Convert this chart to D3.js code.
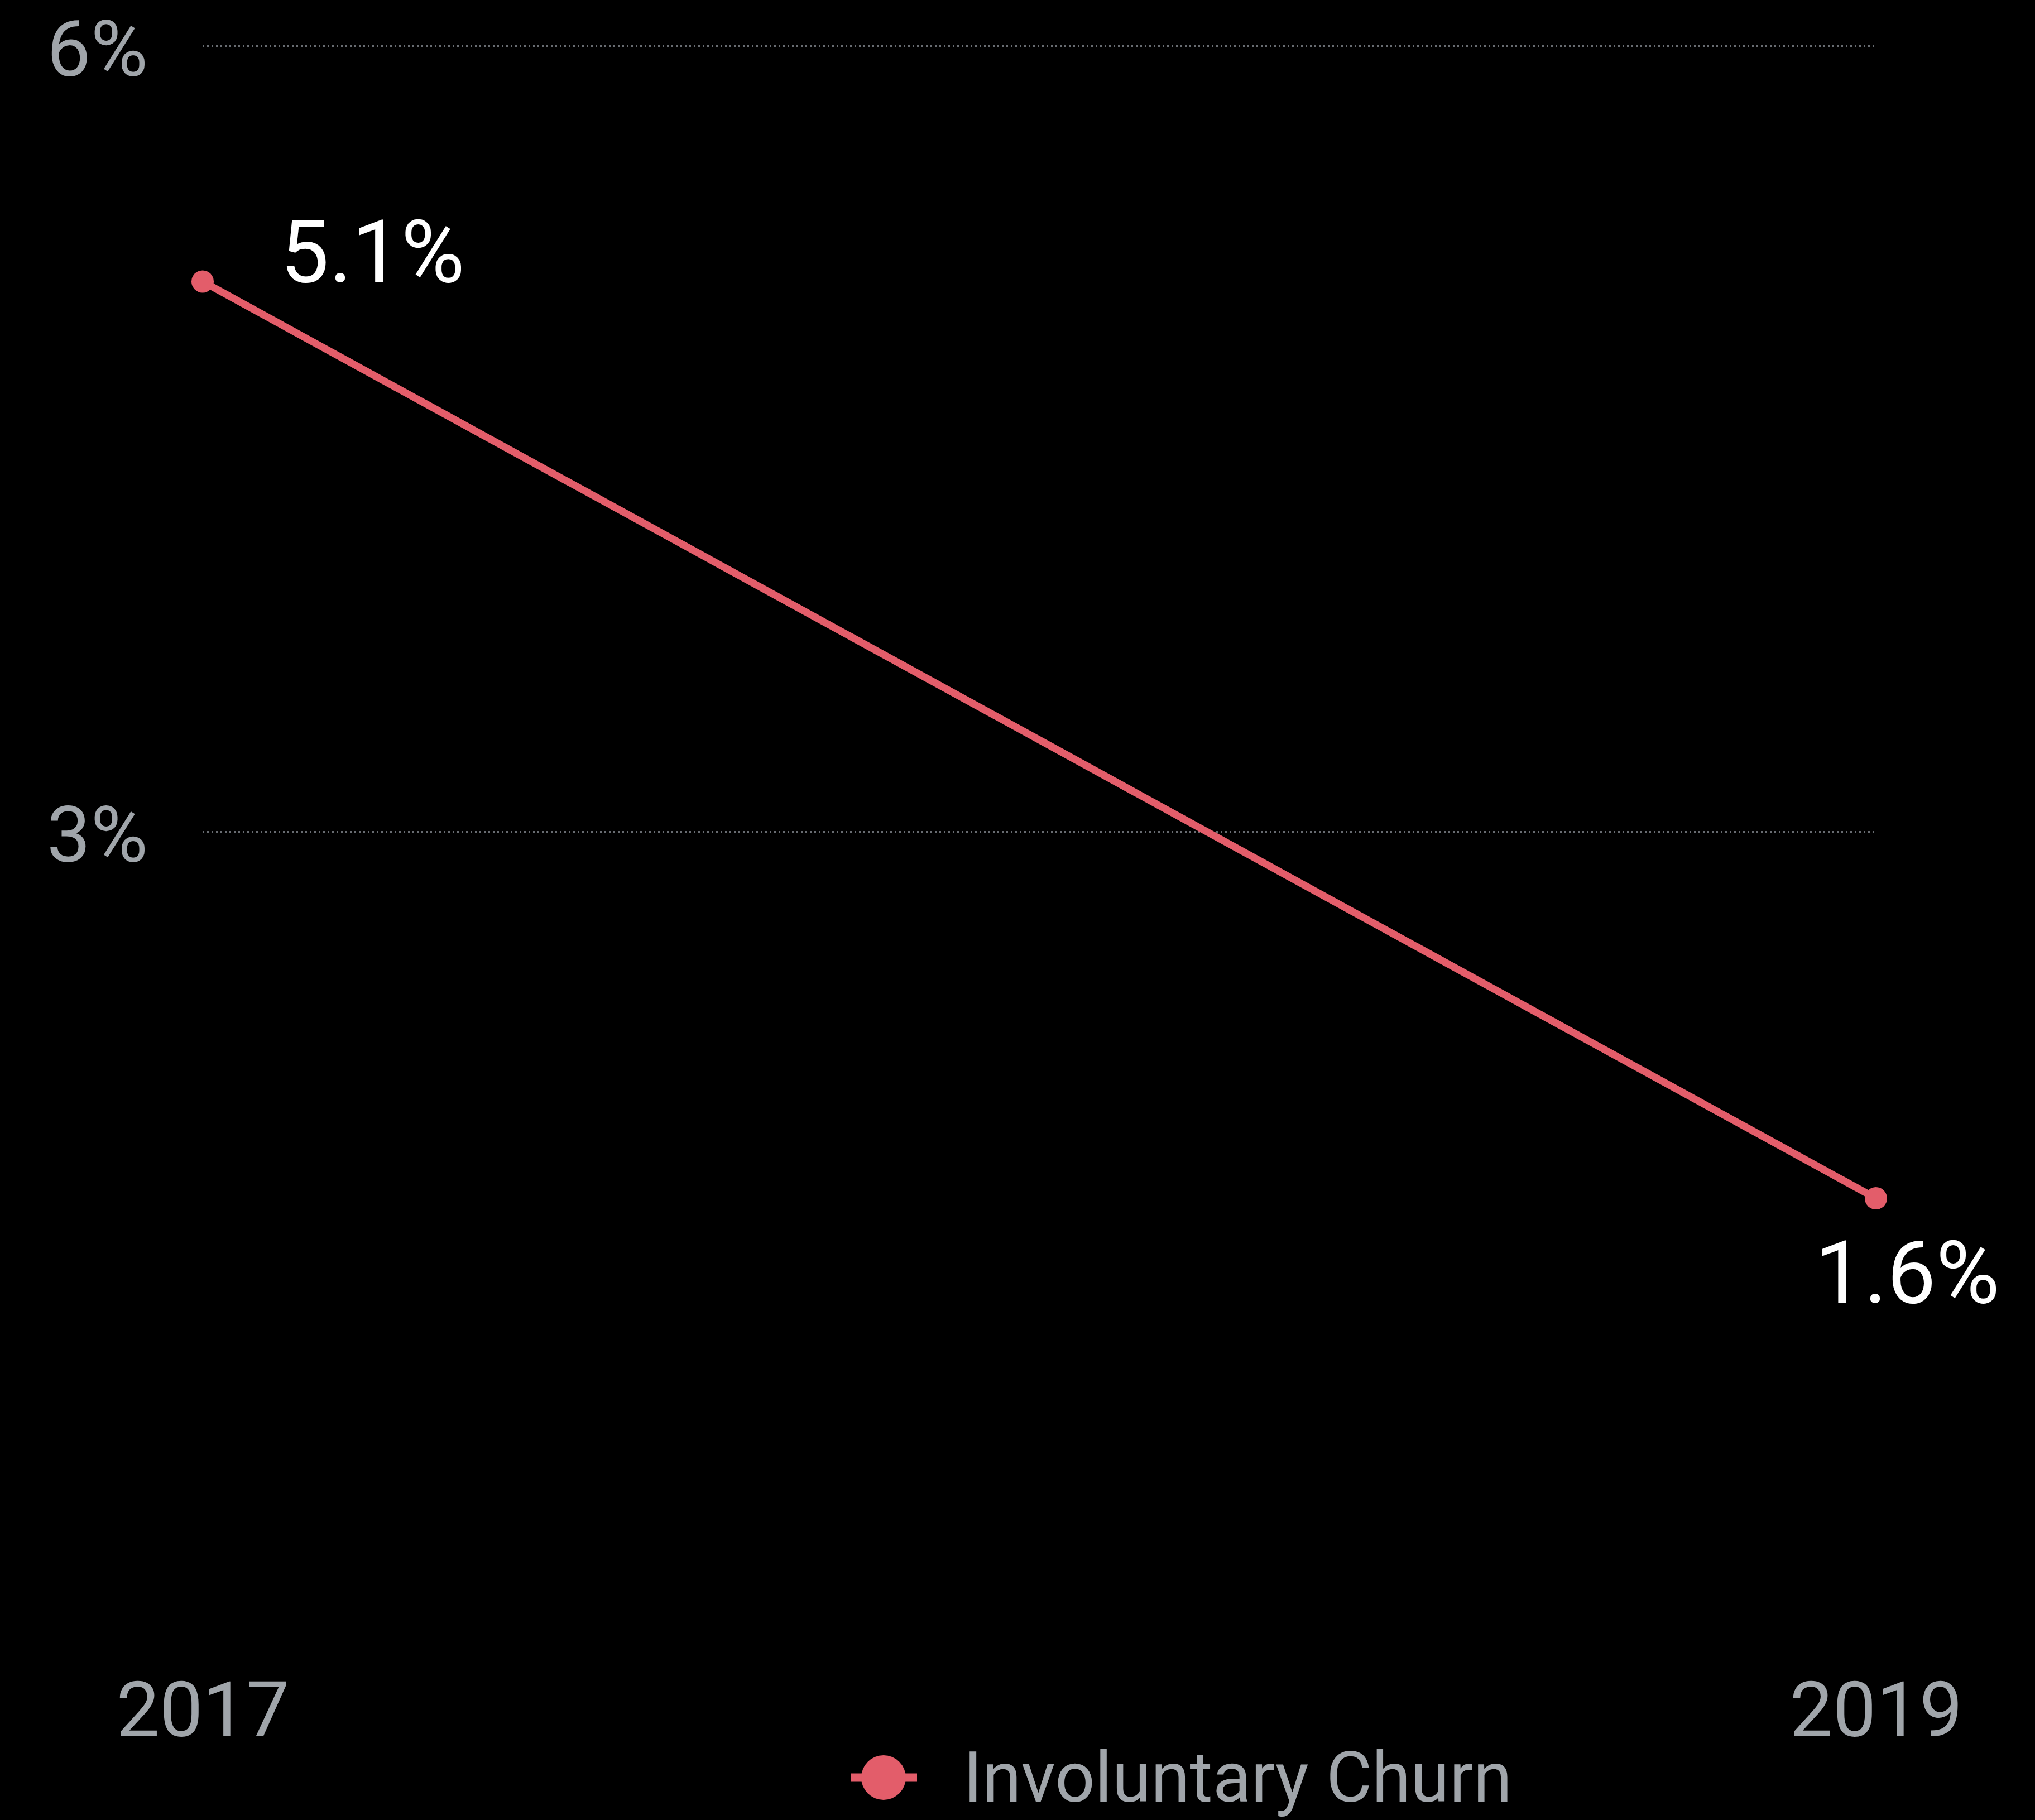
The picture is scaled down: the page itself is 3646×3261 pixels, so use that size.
<!DOCTYPE html>
<html>
<head>
<meta charset="utf-8">
<script src="https://cdn.jsdelivr.net/npm/d3@7/dist/d3.min.js"></script>
<style>
  html, body { margin: 0; padding: 0; background: #000; }
  svg { display: block; }
  text { font-family: Roboto, "Noto Sans", sans-serif; }
</style>
</head>
<body>
<script>
// Involuntary churn rate by year
const years = ["2017", "2019"];
const churnValues = [5.1, 1.6];
const yTickValues = [3, 6];
const seriesName = "Involuntary Churn";

const W = 3646, H = 3261;
const lineColor = "#e35d6a";
const axisColor = "#a0a5aa";

const svg = d3.select("body").append("svg")
  .attr("width", W).attr("height", H)
  .style("background", "#000");

const x = d3.scalePoint().domain(years).range([363, 3361]);
const y = d3.scaleLinear().domain([0, 6]).range([2898, 82]);

// Horizontal dotted gridlines with percent labels
const yAxis = d3.axisLeft(y)
  .tickValues(yTickValues)
  .tickSize(-(x.range()[1] - x.range()[0]))
  .tickPadding(98)
  .tickFormat(d => d + "%");

const gy = svg.append("g")
  .attr("transform", `translate(${x.range()[0]},0)`)
  .call(yAxis);
gy.select(".domain").remove();
gy.selectAll(".tick line")
  .attr("stroke", "#8a9096")
  .attr("stroke-width", 2.5)
  .attr("stroke-dasharray", "3,5");
gy.selectAll(".tick text")
  .attr("fill", axisColor)
  .attr("font-size", 140)
  .attr("dy", null)
  .attr("y", 53);

// Year labels along the bottom
const xAxis = d3.axisBottom(x).tickSize(0).tickPadding(0);
const gx = svg.append("g")
  .attr("transform", "translate(0,3111)")
  .call(xAxis);
gx.select(".domain").remove();
gx.selectAll(".tick text")
  .attr("fill", axisColor)
  .attr("font-size", 138)
  .attr("dy", null)
  .attr("y", 0);

const data = years.map((yr, i) => ({ year: yr, value: churnValues[i] }));

// Series line
const line = d3.line().x(d => x(d.year)).y(d => y(d.value));
svg.append("path")
  .datum(data)
  .attr("fill", "none")
  .attr("stroke", lineColor)
  .attr("stroke-width", 13)
  .attr("stroke-linecap", "round")
  .attr("d", line);

// Point markers
svg.selectAll("circle.pt")
  .data(data)
  .join("circle")
  .attr("class", "pt")
  .attr("cx", d => x(d.year))
  .attr("cy", d => y(d.value))
  .attr("r", 20)
  .attr("fill", lineColor);

// Value labels: first above-right of the point, last below it
const labelOffsets = [{ dx: 139, dy: 1 }, { dx: -109, dy: 187 }];
svg.selectAll("text.val")
  .data(data)
  .join("text")
  .attr("class", "val")
  .attr("x", (d, i) => x(d.year) + labelOffsets[i].dx)
  .attr("y", (d, i) => y(d.value) + labelOffsets[i].dy)
  .attr("fill", "#ffffff")
  .attr("font-size", 156)
  .text(d => d.value.toFixed(1) + "%");

// Legend
const legend = svg.append("g").attr("transform", "translate(1583,3185)");
legend.append("line")
  .attr("x1", -58).attr("x2", 60)
  .attr("y1", 0).attr("y2", 0)
  .attr("stroke", lineColor)
  .attr("stroke-width", 15);
legend.append("circle")
  .attr("r", 40)
  .attr("fill", lineColor);
legend.append("text")
  .attr("x", 143)
  .attr("y", 43)
  .attr("fill", axisColor)
  .attr("font-size", 126)
  .text(seriesName);
</script>
</body>
</html>
